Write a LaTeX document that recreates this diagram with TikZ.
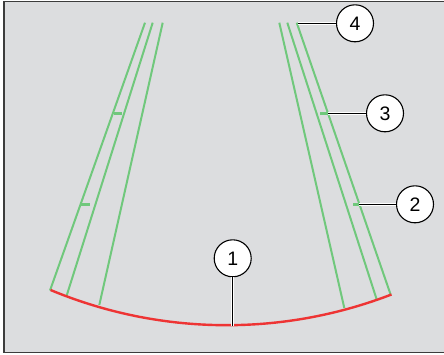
\documentclass[tikz,border=0pt]{standalone}
\usepackage{fontspec}
\setmainfont{Liberation Sans}
\usetikzlibrary{positioning}
\definecolor{guidegreen}{RGB}{112,200,124}
\definecolor{curbred}{RGB}{238,52,52}
\definecolor{screengray}{RGB}{220,221,223}
\definecolor{framegray}{RGB}{60,60,60}

\begin{document}
\begin{tikzpicture}[
    x=1pt, y=-1pt,
    callout/.style={
        circle,
        draw=black,
        fill=white,
        line width=1.1pt,
        minimum size=37pt,
        inner sep=0pt,
        font=\fontsize{19.5}{19.5}\selectfont
    },
    guide/.style={draw=guidegreen, line width=2pt},
    guidetick/.style={draw=guidegreen, line width=2.4pt},
    leader/.style={draw=black, line width=1.1pt,
        preaction={draw=white, line width=3.2pt}}
]
\useasboundingbox (0,0) rectangle (444,354);

% screen
\fill[white] (0,0) rectangle (444,354);
\fill[screengray] (4,1.5) rectangle (444,352.5);
\draw[framegray, line width=1.6pt] (444,1.5) -- (4,1.5) -- (4,352.5) -- (444,352.5);

% guide lines, left
\draw[guide] (145,22.7) -- (50,290.5);
\draw[guide] (152.7,22.7) -- (66.7,295.5);
\draw[guide] (162.7,22.7) -- (99.3,305);
\draw[guidetick] (113.5,113.3) -- (122,113.3);
\draw[guidetick] (81,204.3) -- (90,204.3);

% guide lines, right
\draw[guide] (279.3,22.7) -- (344.3,308);
\draw[guide] (287.3,22.7) -- (376.7,299.5);
\draw[guide] (296.7,22.7) -- (390.7,294.8);
\draw[guidetick] (320,113.3) -- (327.5,113.3);
\draw[guidetick] (353,204.3) -- (358.5,204.3);

% bumper line
\draw[curbred, line width=2.4pt]
    plot[domain=112.6:68.9, samples=80] ({226.6+458*cos(\x)}, {-132.8+458*sin(\x)});

\coordinate (p1) at (232.7,325.5);
\coordinate (p2) at (358.5,204.3);
\coordinate (p3) at (327.5,113.3);
\coordinate (p4) at (298,23.3);

\node[callout] (c1) at (232.7,258.3) {1};
\node[callout] (c2) at (415,204.3) {2};
\node[callout] (c3) at (385,113.3) {3};
\node[callout] (c4) at (355,23.3) {4};

\draw[leader] (c1) -- (p1);
\draw[leader] (c2) -- (p2);
\draw[leader] (c3) -- (p3);
\draw[leader] (c4) -- (p4);

\end{tikzpicture}
\end{document}
